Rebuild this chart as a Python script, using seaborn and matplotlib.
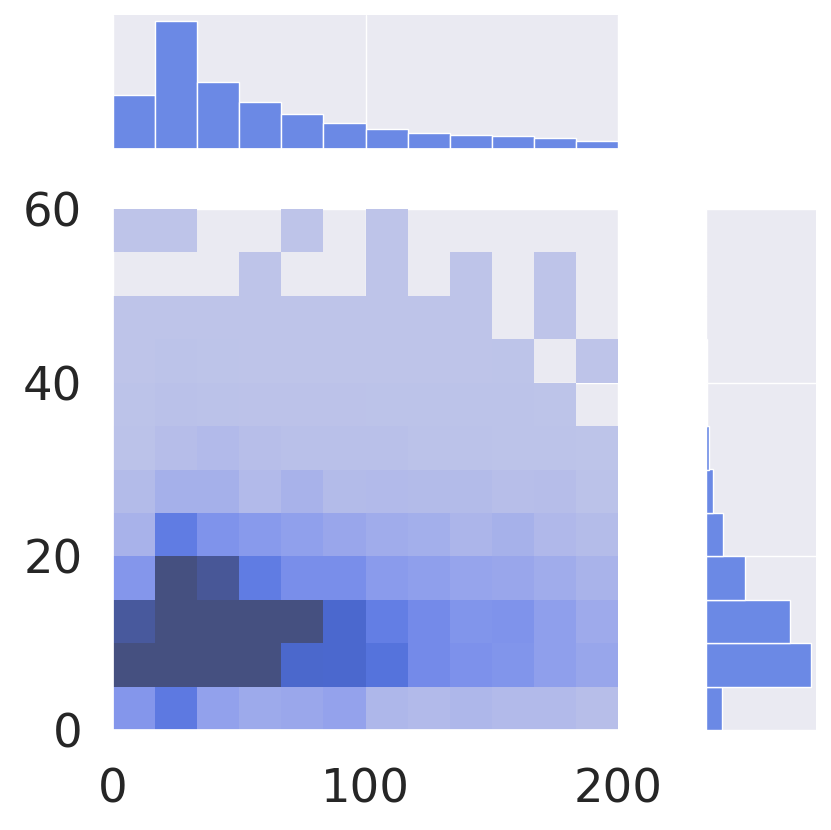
import numpy as np
import pandas as pd
import matplotlib
matplotlib.use("Agg")
import matplotlib.pyplot as plt
import seaborn as sns

# ---- data: 12 x-bins (0-200) by 12 y-bins (0-60), counts per cell ----
x_range = (0, 200)
y_range = (0, 60)
n_xbins = 12
n_ybins = 12

row_00_05 = [68, 112, 52, 39, 43, 50, 20, 16, 20, 16, 16, 10]
row_05_10 = [640, 900, 500, 344, 141, 140, 122, 86, 75, 70, 55, 45]
row_10_15 = [171, 800, 390, 280, 298, 140, 104, 86, 70, 72, 55, 38]
row_15_20 = [68, 392, 175, 108, 80, 80, 61, 55, 48, 44, 36, 26]
row_20_25 = [27, 108, 72, 63, 54, 44, 36, 32, 23, 29, 18, 13]
row_25_30 = [14, 30, 30, 16, 27, 14, 16, 14, 14, 10, 11, 5]
row_30_35 = [5, 11, 16, 9, 7, 7, 7, 5, 5, 3, 3, 2]
row_35_40 = [3, 6, 5, 4, 4, 4, 3, 3, 3, 3, 2, 0]
row_40_45 = [1, 3, 2, 1, 1, 1, 1, 1, 1, 2, 0, 1]
row_45_50 = [1, 1, 1, 1, 1, 1, 1, 1, 1, 0, 1, 0]
row_50_55 = [0, 0, 0, 1, 0, 0, 1, 0, 1, 0, 1, 0]
row_55_60 = [1, 1, 0, 0, 1, 0, 1, 0, 0, 0, 0, 0]

rows = [row_00_05, row_05_10, row_10_15, row_15_20, row_20_25, row_25_30,
        row_30_35, row_35_40, row_40_45, row_45_50, row_50_55, row_55_60]

color_max = 190  # count at which the colour map saturates

# ---- build a weighted long table (one entry per histogram cell) ----
x_edges = np.linspace(*x_range, n_xbins + 1)
y_edges = np.linspace(*y_range, n_ybins + 1)
x_mid = (x_edges[:-1] + x_edges[1:]) / 2
y_mid = (y_edges[:-1] + y_edges[1:]) / 2
recs = []
for yi, row in enumerate(rows):
    for xi, c in enumerate(row):
        if c > 0:
            recs.append((x_mid[xi], y_mid[yi], c))
df = pd.DataFrame(recs, columns=["x", "y", "w"])

sns.set_theme(style="darkgrid")

g = sns.JointGrid(data=df, x="x", y="y", height=8.3, ratio=3, space=0.5)
fig = g.figure
fig.set_size_inches(8.31, 8.30)

sns.histplot(data=df, x="x", y="y", weights="w", bins=(n_xbins, n_ybins),
             binrange=(x_range, y_range), color="royalblue",
             vmax=color_max, ax=g.ax_joint)
sns.histplot(data=df, x="x", weights="w", bins=n_xbins, binrange=x_range,
             color="royalblue", ax=g.ax_marg_x)
sns.histplot(data=df, y="y", weights="w", bins=n_ybins, binrange=y_range,
             color="royalblue", ax=g.ax_marg_y)

ax = g.ax_joint
ax.set_xlim(*x_range)
ax.set_ylim(*y_range)
ax.set_xticks([0, 100, 200])
ax.set_yticks([0, 20, 40, 60])
ax.set_xlabel("")
ax.set_ylabel("")
ax.tick_params(axis="x", labelsize=33.5, pad=27, length=0)
ax.tick_params(axis="y", labelsize=33.5, pad=22, length=0)
g.ax_marg_x.set_xlabel("")
g.ax_marg_x.set_ylabel("")
g.ax_marg_y.set_xlabel("")
g.ax_marg_y.set_ylabel("")

W, H = 831, 830
def pos(l, t, r, b):
    return [l / W, (H - b) / H, (r - l) / W, (b - t) / H]

ax.set_position(pos(113, 209, 618, 730))
g.ax_marg_x.set_position(pos(113, 15, 618, 149))
g.ax_marg_y.set_position(pos(706, 209, 816, 730))

fig.savefig("out.png", dpi=100)
